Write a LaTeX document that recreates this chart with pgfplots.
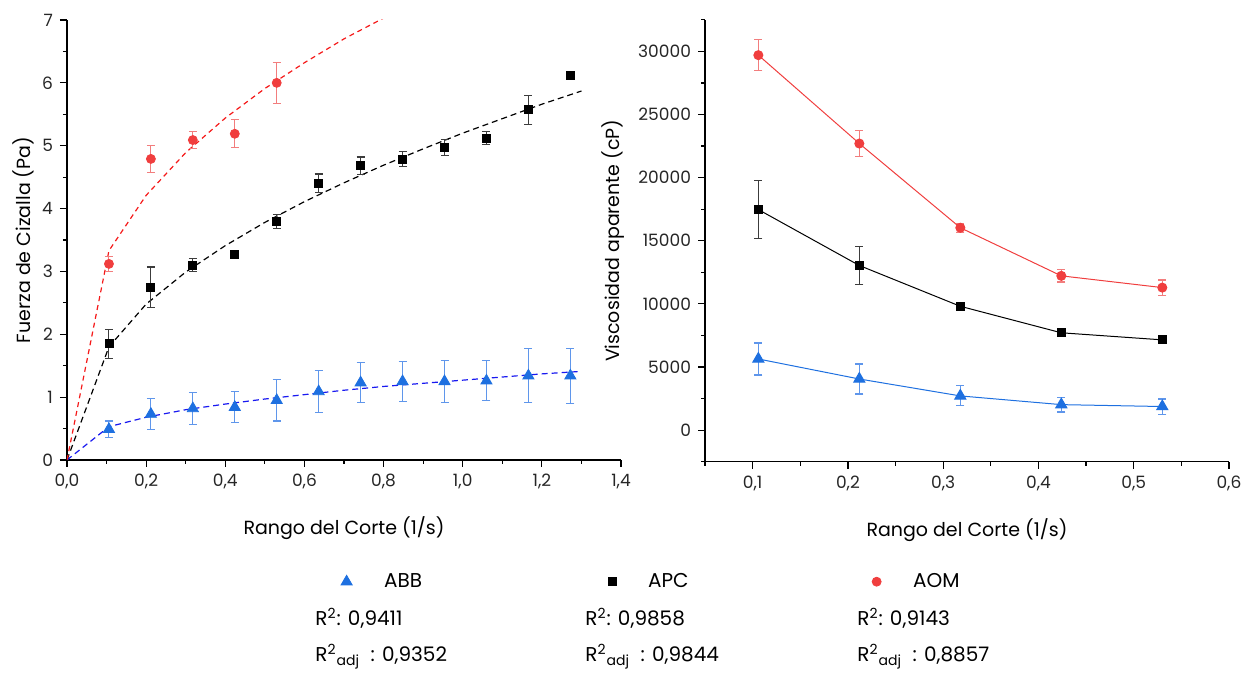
\documentclass[border=0pt]{standalone}
\usepackage{fontspec}
\setmainfont{Poppins}
\usepackage{pgfplots}
\usepackage{pgfplotstable}
\pgfplotsset{compat=1.18}

\definecolor{cabb}{RGB}{30,112,224}
\definecolor{caom}{RGB}{240,62,62}
\definecolor{eabb}{RGB}{95,150,235}
\definecolor{eaom}{RGB}{242,125,125}
\definecolor{eapc}{RGB}{60,60,60}
\definecolor{fitblue}{RGB}{25,25,240}
\definecolor{fitred}{RGB}{245,25,25}

% Fuerza de cizalla (Pa) vs rango del corte
\pgfplotstableread{
x y e
0.106 0.49 0.13
0.212 0.73 0.25
0.318 0.82 0.25
0.424 0.84 0.25
0.530 0.95 0.33
0.636 1.09 0.34
0.742 1.23 0.32
0.848 1.25 0.32
0.954 1.25 0.33
1.060 1.26 0.32
1.166 1.34 0.43
1.272 1.34 0.44
}\abbF
\pgfplotstableread{
x y e
0.106 1.85 0.23
0.212 2.75 0.32
0.318 3.10 0.10
0.424 3.27 0.07
0.530 3.80 0.11
0.636 4.40 0.15
0.742 4.68 0.14
0.848 4.79 0.12
0.954 4.97 0.13
1.060 5.12 0.10
1.166 5.57 0.23
1.272 6.12 0.06
}\apcF
\pgfplotstableread{
x y e
0.106 3.12 0.12
0.212 4.79 0.22
0.318 5.09 0.13
0.424 5.19 0.22
0.530 6.00 0.33
}\aomF

% viscosidad aparente (cP)
\pgfplotstableread{
x y e
0.106 5635 1270
0.212 4050 1190
0.318 2710 790
0.424 2020 580
0.530 1870 600
}\abbV
\pgfplotstableread{
x y e
0.106 17470 2300
0.212 13040 1500
0.318 9810 200
0.424 7710 150
0.530 7150 150
}\apcV
\pgfplotstableread{
x y e
0.106 29700 1215
0.212 22700 1030
0.318 16030 370
0.424 12220 490
0.530 11290 600
}\aomV

\pgfplotsset{
  rheo/.style={
    scale only axis,
    axis x line*=bottom, axis y line*=left,
    axis line style={line width=0.7pt,-},
    tick align=outside,
    major tick length=3.5pt, minor tick length=2pt,
    every tick/.style={black,line width=0.6pt},
    tick label style={font=\fontsize{8.5}{9}\selectfont,text=black!85},
    label style={font=\fontsize{9.5}{11}\selectfont},
    xlabel style={yshift=-7pt},
    /pgf/number format/assume math mode=true,
    scaled ticks=false,
  },
  commatick/.style={/pgf/number format/.cd,fixed,fixed zerofill,precision=1,use comma},
  errs/.style={error bars/.cd, y dir=both, y explicit,
    error bar style={line width=0.55pt,color=#1},
    error mark options={rotate=90,line width=0.55pt,color=#1,mark size=2pt}},
  legimg/.style={legend image code/.code={\draw[##1] plot coordinates {(0pt,0pt)};}},
}

\begin{document}
\begin{tikzpicture}
\useasboundingbox (0pt,0pt) rectangle (624.5pt,-336.5pt);

\begin{axis}[rheo,
  at={(33.5pt,-230pt)}, anchor=south west,
  width=277pt, height=220pt,
  xmin=0, xmax=1.4, ymin=0, ymax=7,
  xtick={0,0.2,0.4,0.6,0.8,1.0,1.2,1.4},
  minor xtick={0.1,0.3,0.5,0.7,0.9,1.1,1.3},
  ytick={0,1,2,3,4,5,6,7},
  minor ytick={0.5,1.5,2.5,3.5,4.5,5.5,6.5},
  xticklabel style={commatick},
  xlabel={Rango del Corte (1/s)},
  ylabel={Fuerza de Cizalla (Pa)},
  ylabel style={yshift=-3pt},
  legend columns=3,
  legend style={at={(0.494,-0.2766)}, anchor=west, draw=none, fill=none,
    inner sep=0pt,
    nodes={inner sep=0pt, text width=112pt, font=\fontsize{10}{12}\selectfont},
    /tikz/every odd column/.append style={column sep=16pt}},
]
% ajustes (ley de potencia)
\addplot[forget plot, fitblue, line width=0.6pt, dash pattern=on 3pt off 2pt] coordinates {
  (0,0) (0.106,0.53) (0.2,0.68) (0.3,0.80) (0.4,0.89) (0.5,0.97) (0.6,1.04)
  (0.7,1.11) (0.8,1.17) (0.9,1.22) (1.0,1.27) (1.1,1.32) (1.2,1.37) (1.3,1.41)};
\addplot[forget plot, black, line width=0.6pt, dash pattern=on 3pt off 2pt] coordinates {
  (0,0) (0.106,1.80) (0.2,2.48) (0.3,2.99) (0.4,3.41) (0.5,3.78) (0.6,4.11)
  (0.7,4.41) (0.8,4.69) (0.9,4.95) (1.0,5.20) (1.1,5.43) (1.2,5.66) (1.3,5.87)};
\addplot[forget plot, fitred, line width=0.6pt, dash pattern=on 2.5pt off 2pt] coordinates {
  (0,0) (0.106,3.33) (0.2,4.21) (0.3,4.89) (0.4,5.44) (0.5,5.91) (0.6,6.32)
  (0.7,6.70) (0.8,7.03)};

\addplot[only marks, legimg, mark=triangle*, mark size=3.2pt, color=cabb,
  errs=eabb] table[x=x,y=y,y error=e] {\abbF};
\addlegendentry{ABB}
\addplot[only marks, legimg, mark=square*, mark size=2pt, color=black,
  errs=eapc] table[x=x,y=y,y error=e] {\apcF};
\addlegendentry{APC}
\addplot[only marks, legimg, mark=*, mark size=2.25pt, color=caom,
  errs=eaom] table[x=x,y=y,y error=e] {\aomF};
\addlegendentry{AOM}
\end{axis}

\begin{axis}[rheo,
  at={(352.5pt,-230.85pt)}, anchor=south west,
  width=262pt, height=220.95pt,
  xmin=0.05, xmax=0.6, ymin=-2500, ymax=32500,
  xtick={0.1,0.2,0.3,0.4,0.5,0.6},
  minor xtick={0.05,0.15,0.25,0.35,0.45,0.55},
  ytick={0,5000,10000,15000,20000,25000,30000},
  minor ytick={-2500,2500,7500,12500,17500,22500,27500,32500},
  xticklabel style={commatick},
  yticklabel style={/pgf/number format/.cd,fixed,1000 sep={}},
  xlabel={Rango del Corte (1/s)},
  ylabel={Viscosidad aparente (cP)},
]
\addplot[mark=triangle*, mark size=3.2pt, color=cabb, line width=0.5pt,
  errs=eabb] table[x=x,y=y,y error=e] {\abbV};
\addplot[mark=square*, mark size=2pt, color=black, line width=0.5pt,
  errs=eapc] table[x=x,y=y,y error=e] {\apcV};
\addplot[mark=*, mark size=2.25pt, color=caom, line width=0.5pt,
  errs=eaom] table[x=x,y=y,y error=e] {\aomV};
\end{axis}

\tikzset{rtxt/.style={anchor=base west, inner sep=0pt, font=\fontsize{10}{12}\selectfont}}
\node[rtxt] at (157.5pt,-313pt) {R\textsuperscript{2}: 0,9411};
\node[rtxt] at (157.5pt,-331pt) {R\textsuperscript{2}\textsubscript{adj}~~: 0,9352};
\node[rtxt] at (292.5pt,-313pt) {R\textsuperscript{2}: 0,9858};
\node[rtxt] at (292.5pt,-331pt) {R\textsuperscript{2}\textsubscript{adj}~~: 0,9844};
\node[rtxt] at (428.5pt,-313pt) {R\textsuperscript{2}: 0,9143};
\node[rtxt] at (428.5pt,-331pt) {R\textsuperscript{2}\textsubscript{adj}~~: 0,8857};
\end{tikzpicture}
\end{document}
